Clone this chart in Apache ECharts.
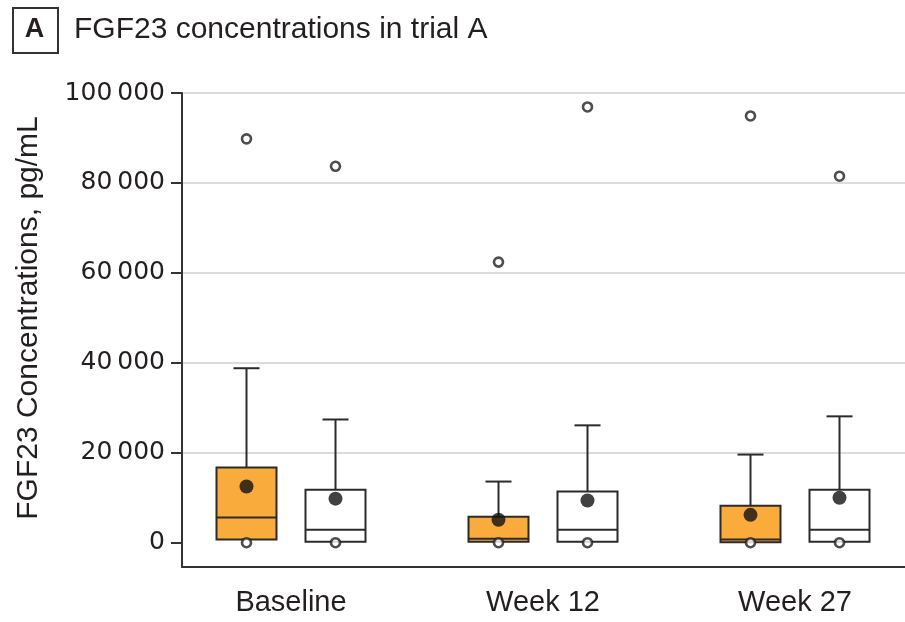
<!DOCTYPE html>
<html>
<head>
<meta charset="utf-8">
<script src="https://cdn.jsdelivr.net/npm/echarts@6/dist/echarts.min.js"></script>
<style>
  html, body { margin: 0; padding: 0; background: #fff; }
  #chart { width: 905px; height: 622px; }
</style>
</head>
<body>
<div id="chart"></div>
<script>
// Study visits on the horizontal axis
const categories = ['Baseline', 'Week 12', 'Week 27'];

// Box summaries per visit: [Q1, median, Q3, upper whisker], pg/mL
const treatmentBox = [
  [700, 5600, 16700, 38800],
  [200, 900, 5800, 13600],
  [100, 700, 8200, 19600]
];
const placeboBox = [
  [200, 2900, 11800, 27400],
  [200, 2900, 11400, 26100],
  [200, 2900, 11800, 28100]
];

// Means per visit, pg/mL
const treatmentMean = [12500, 5100, 6200];
const placeboMean = [9800, 9400, 10000];

// Outlying observations: [visit index, value]
const treatmentOutliers = [[0, 0], [0, 89800], [1, 0], [1, 62400], [2, 0], [2, 94900]];
const placeboOutliers = [[0, 0], [0, 83700], [1, 0], [1, 96900], [2, 0], [2, 81500]];

// Value axis ticks
const yTicks = [0, 20000, 40000, 60000, 80000, 100000];

const FONT = '"Liberation Sans", Arial, sans-serif';
const NUM_FONT = '"DejaVu Sans", sans-serif';
const INK = '#231f20';
const ORANGE = '#F9AC3C';
const GRID = '#dcdcdc';

// Horizontal layout of the paired boxes, in pixels
const PAIR_SHIFT = 44.5;
const BOX_W = 60;
const CAP_W = 26;

function fmtTick(v) {
  const s = String(v);
  return s.length > 3 ? s.slice(0, -3) + '\u2009' + s.slice(-3) : s;
}

function boxRenderer(shift, fill) {
  return function (params, api) {
    const i = api.value(0);
    const cx = api.coord([i, 0])[0] + shift;
    const yQ1 = api.coord([i, api.value(1)])[1];
    const yMed = api.coord([i, api.value(2)])[1];
    const yQ3 = api.coord([i, api.value(3)])[1];
    const yHi = api.coord([i, api.value(4)])[1];
    const stroke = { stroke: '#2b2b2b', lineWidth: 2, fill: null };
    return {
      type: 'group',
      children: [
        { type: 'line', shape: { x1: cx, y1: yQ3, x2: cx, y2: yHi }, style: stroke },
        { type: 'line', shape: { x1: cx - CAP_W / 2, y1: yHi, x2: cx + CAP_W / 2, y2: yHi }, style: stroke },
        { type: 'rect', shape: { x: cx - BOX_W / 2, y: yQ3, width: BOX_W, height: yQ1 - yQ3 },
          style: { stroke: '#2b2b2b', lineWidth: 2, fill: fill } },
        { type: 'line', shape: { x1: cx - BOX_W / 2, y1: yMed, x2: cx + BOX_W / 2, y2: yMed }, style: stroke }
      ]
    };
  };
}

function boxData(rows) {
  return rows.map((r, i) => [i].concat(r));
}
function meanData(vals) {
  return vals.map((v, i) => [i, v]);
}

const chart = echarts.init(document.getElementById('chart'), null, { renderer: 'canvas' });

const gridLeft = 182, gridRight = 0;
const bandPx = 252;
const firstCenterPx = 291;
const plotW = 905 - gridLeft - gridRight;
const xMin = -(firstCenterPx - gridLeft) / bandPx;
const xMax = xMin + plotW / bandPx;

// no gridline on the zero tick
const gridColors = yTicks.map(v => (v === 0 ? 'rgba(0,0,0,0)' : GRID));

chart.setOption({
  animation: false,
  backgroundColor: '#fff',
  grid: { left: gridLeft, right: gridRight, top: 93, bottom: 55, containLabel: false },
  xAxis: {
    type: 'value',
    min: xMin,
    max: xMax,
    splitLine: { show: false },
    axisTick: { show: false },
    axisLine: { show: true, onZero: false, lineStyle: { color: '#333', width: 2 } },
    axisLabel: {
      customValues: [0, 1, 2],
      formatter: v => categories[Math.round(v)],
      fontFamily: FONT, fontSize: 29, color: INK, margin: 21
    }
  },
  yAxis: {
    type: 'value',
    min: -5400,
    max: 100000,
    axisLine: { show: true, onZero: false, lineStyle: { color: '#333', width: 2 } },
    axisTick: { show: true, customValues: yTicks, length: 11, lineStyle: { color: '#333', width: 2 } },
    axisLabel: {
      customValues: yTicks,
      formatter: fmtTick,
      fontFamily: NUM_FONT, fontSize: 25, color: INK, margin: 17
    },
    splitLine: { show: true, lineStyle: { color: gridColors, width: 2 } }
  },
  graphic: [
    { type: 'rect', left: 12, top: 7, shape: { width: 45, height: 45 },
      style: { fill: '#fff', stroke: '#333', lineWidth: 2 } },
    { type: 'text', x: 34.5, y: 30, style: { text: 'A', font: 'bold 27px ' + FONT, fill: INK,
      textAlign: 'center', textVerticalAlign: 'middle' } },
    { type: 'text', x: 74, y: 30, style: { text: 'FGF23 concentrations in trial A', font: '30px ' + FONT,
      fill: INK, textAlign: 'left', textVerticalAlign: 'middle' } },
    { type: 'text', x: 29, y: 318, rotation: Math.PI / 2,
      style: { text: 'FGF23 Concentrations, pg/mL', font: '30px ' + FONT, fill: INK,
        textAlign: 'center', textVerticalAlign: 'middle' } }
  ],
  series: [
    { type: 'custom', name: 'Treatment box', renderItem: boxRenderer(-PAIR_SHIFT, ORANGE),
      data: boxData(treatmentBox), encode: { x: 0, y: [1, 2, 3, 4] }, z: 2 },
    { type: 'custom', name: 'Placebo box', renderItem: boxRenderer(PAIR_SHIFT, '#fff'),
      data: boxData(placeboBox), encode: { x: 0, y: [1, 2, 3, 4] }, z: 2 },
    { type: 'scatter', name: 'Treatment mean', data: meanData(treatmentMean), symbol: 'circle',
      symbolSize: 14, symbolOffset: [-PAIR_SHIFT, 0], itemStyle: { color: '#111' }, z: 4 },
    { type: 'scatter', name: 'Placebo mean', data: meanData(placeboMean), symbol: 'circle',
      symbolSize: 14, symbolOffset: [PAIR_SHIFT, 0], itemStyle: { color: '#111' }, z: 4 },
    { type: 'scatter', name: 'Treatment outliers', data: treatmentOutliers, symbol: 'circle',
      symbolSize: 9, symbolOffset: [-PAIR_SHIFT, 0],
      itemStyle: { color: '#fff', borderColor: '#222', borderWidth: 2.6 }, z: 5 },
    { type: 'scatter', name: 'Placebo outliers', data: placeboOutliers, symbol: 'circle',
      symbolSize: 9, symbolOffset: [PAIR_SHIFT, 0],
      itemStyle: { color: '#fff', borderColor: '#222', borderWidth: 2.6 }, z: 5 }
  ]
});
</script>
</body>
</html>
